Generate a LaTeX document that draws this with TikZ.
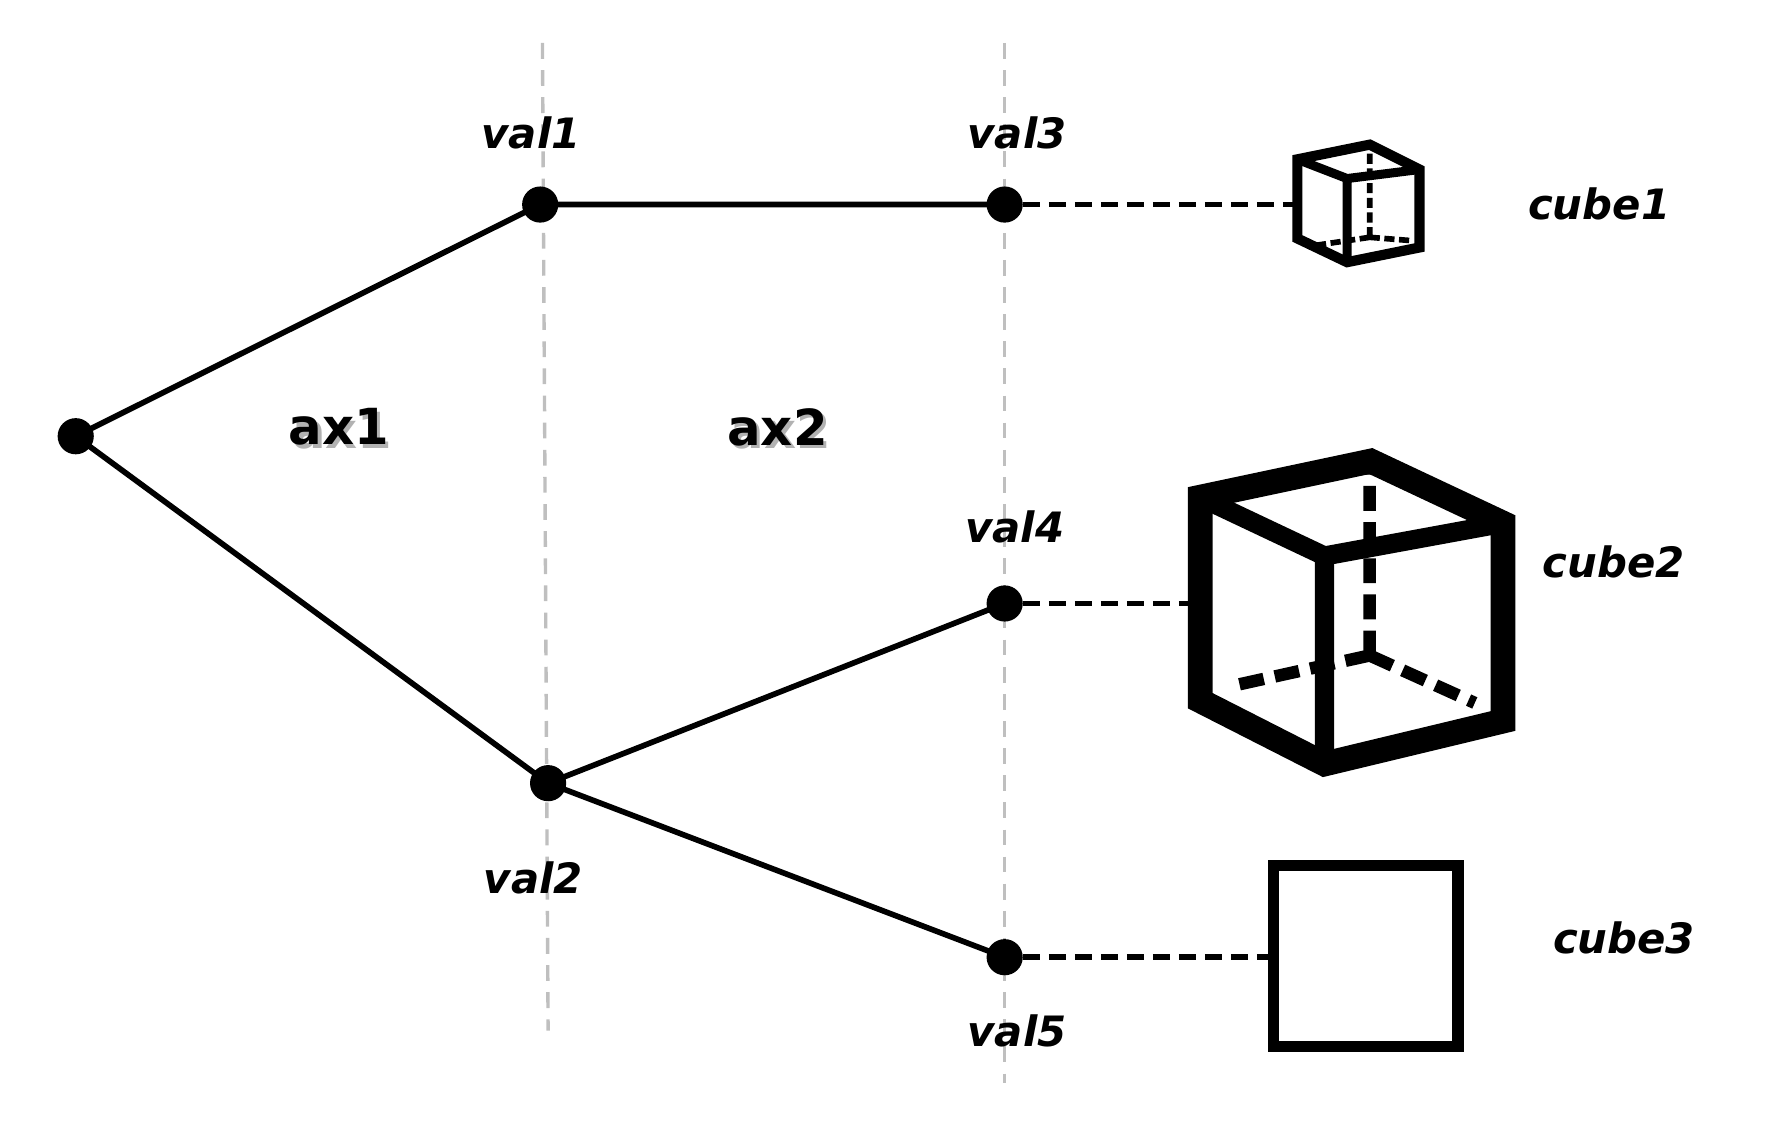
\documentclass[tikz,border=0pt]{standalone}
\usepackage{fontspec}
\setmainfont{DejaVu Sans}
\begin{document}
\begin{tikzpicture}[x=1pt,y=-1pt,
  dot/.style={circle,fill=black,inner sep=0,minimum size=32pt},
  lbl/.style={font=\fontsize{37}{44}\selectfont\bfseries\itshape},
  axl/.style={font=\fontsize{44}{50}\selectfont\bfseries},
  edge/.style={line width=5pt},
  conn/.style={line width=5pt,dash pattern=on 15pt off 8pt},
  guide/.style={line width=3pt,gray!50,dash pattern=on 14pt off 10pt}]
\useasboundingbox (0,0) rectangle (1568,995);
\draw[guide] (480,38) -- (485,912);
\draw[guide] (889,38) -- (889,958);
\node[dot] (r) at (67,386) {};
\node[dot] (v1) at (478,181) {};
\node[dot] (v3) at (889,181) {};
\node[dot] (v2) at (485,693) {};
\node[dot] (v4) at (889,534) {};
\node[dot] (v5) at (889,847) {};
\draw[edge] (r.center) -- (v1.center) -- (v3.center);
\draw[edge] (r.center) -- (v2.center) -- (v4.center);
\draw[edge] (v2.center) -- (v5.center);
\node[lbl] at (470,118) {val1};
\node[lbl] at (900,118) {val3};
\node[lbl] at (898,466) {val4};
\node[lbl] at (472,777) {val2};
\node[lbl] at (900,912) {val5};
\node[axl,gray!60] at (303,381) {ax1};
\node[axl] at (300,378) {ax1};
\node[axl,gray!60] at (691,381) {ax2};
\node[axl] at (688,378) {ax2};
\node[lbl] at (1415,180) {cube1};
\node[lbl] at (1428,497) {cube2};
\node[lbl] at (1437,830) {cube3};
\coordinate (c1) at (1148,181);
\coordinate (c2) at (1062,534);
\coordinate (c3) at (1127,847);
\draw[conn] (v3) -- (c1);
\draw[conn] (v4) -- (c2);
\draw[conn] (v5) -- (c3);
% cube1
\begin{scope}[line width=9pt,line join=miter]
\draw[line width=5pt,dash pattern=on 9pt off 4pt] (1212,210) -- (1212,132) (1212,210) -- (1158,218) (1212,210) -- (1250,213);
\draw (1148,141) -- (1212,128) -- (1256,150) -- (1256,219) -- (1192,232) -- (1148,211) -- cycle;
\draw[line width=8pt] (1148,141) -- (1192,158) -- (1256,150) (1192,158) -- (1192,232);
\end{scope}
% cube2
\begin{scope}[line width=22pt,line join=miter]
\draw[line width=11pt,dash pattern=on 22pt off 10pt] (1212,580) -- (1212,418) (1212,580) -- (1090,607) (1212,580) -- (1305,622);
\draw (1062,440) -- (1213,408) -- (1330,463) -- (1330,638) -- (1172,676) -- (1062,620) -- cycle;
\draw[line width=17pt] (1062,440) -- (1172,492) -- (1330,463) (1172,492) -- (1172,676);
\end{scope}
% cube3
\draw[line width=10pt] (1127,766) rectangle (1290,926);
\end{tikzpicture}
\end{document}
